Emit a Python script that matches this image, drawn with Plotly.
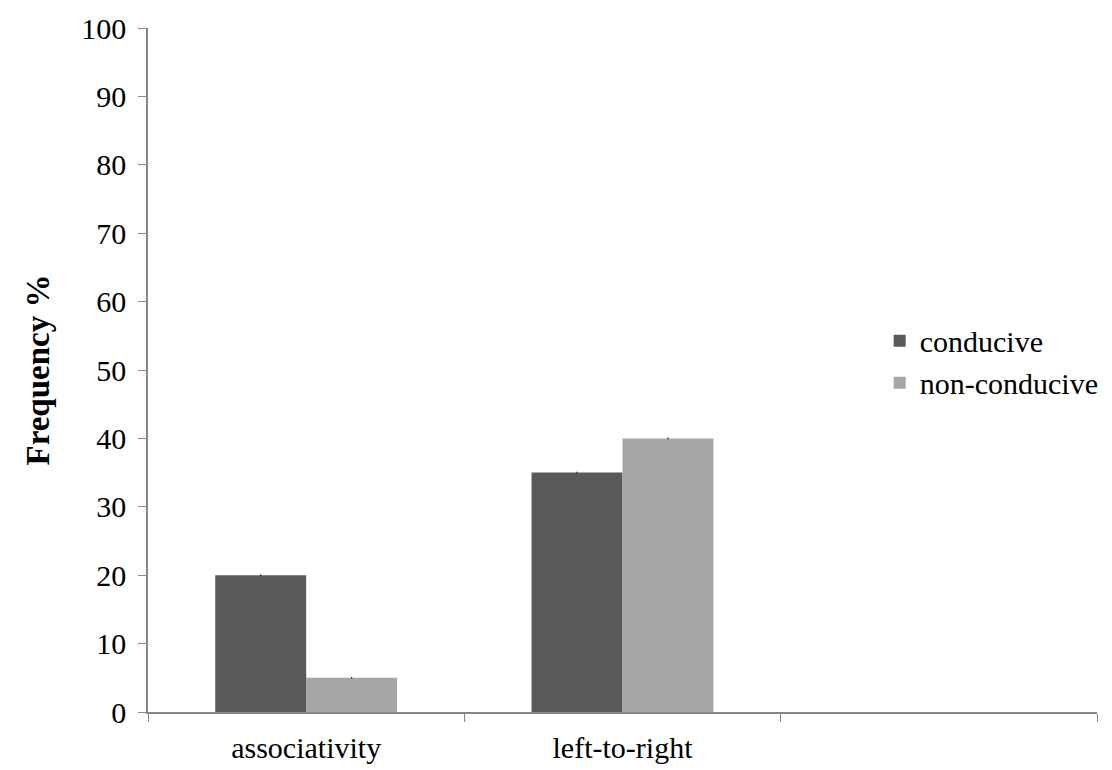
import plotly.graph_objects as go

categories = ["associativity", "left-to-right", " "]
conducive = [20, 35, None]
non_conducive = [5, 40, None]
series_names = ["conducive", "non-conducive"]
colors = ["#595959", "#a6a6a6"]

serif = "Liberation Serif, Times New Roman, serif"

fig = go.Figure()
for name, vals, col in zip(series_names, [conducive, non_conducive], colors):
    fig.add_trace(go.Bar(
        x=categories, y=vals, name=name,
        marker=dict(color=col, line=dict(width=0)),
        error_y=dict(type="constant", value=0.12, color="#222222", thickness=1.2, width=0),
    ))

fig.update_layout(
    width=1112, height=770,
    paper_bgcolor="white", plot_bgcolor="white",
    margin=dict(l=148, r=15, t=28, b=58, autoexpand=False),
    barmode="group", bargap=0.425, bargroupgap=0,
    font=dict(family=serif, color="black", size=30),
    legend=dict(x=0.771, y=0.512, xanchor="left", yanchor="middle",
                font=dict(family=serif, size=30), itemsizing="constant",
                tracegroupgap=0, bgcolor="rgba(0,0,0,0)", itemwidth=30),
    showlegend=True,
)
fig.update_xaxes(
    type="category", range=[-0.5, 2.5], automargin=False,
    showline=True, linecolor="#868686", linewidth=1.5,
    ticks="outside", tickson="boundaries", ticklen=8, tickcolor="#868686",
    tickfont=dict(family=serif, size=30), showgrid=False, zeroline=False,
    ticklabelstandoff=8,
)
fig.update_yaxes(
    range=[0, 100], tick0=0, dtick=10, automargin=False,
    showline=True, linecolor="#868686", linewidth=1.5,
    ticks="outside", ticklen=8, tickcolor="#868686",
    tickfont=dict(family=serif, size=30), showgrid=False, zeroline=False,
    ticklabelstandoff=6,
    title=dict(text="<b>Frequency %</b>", font=dict(family=serif, size=33), standoff=22),
)

fig.write_html("out.html")
